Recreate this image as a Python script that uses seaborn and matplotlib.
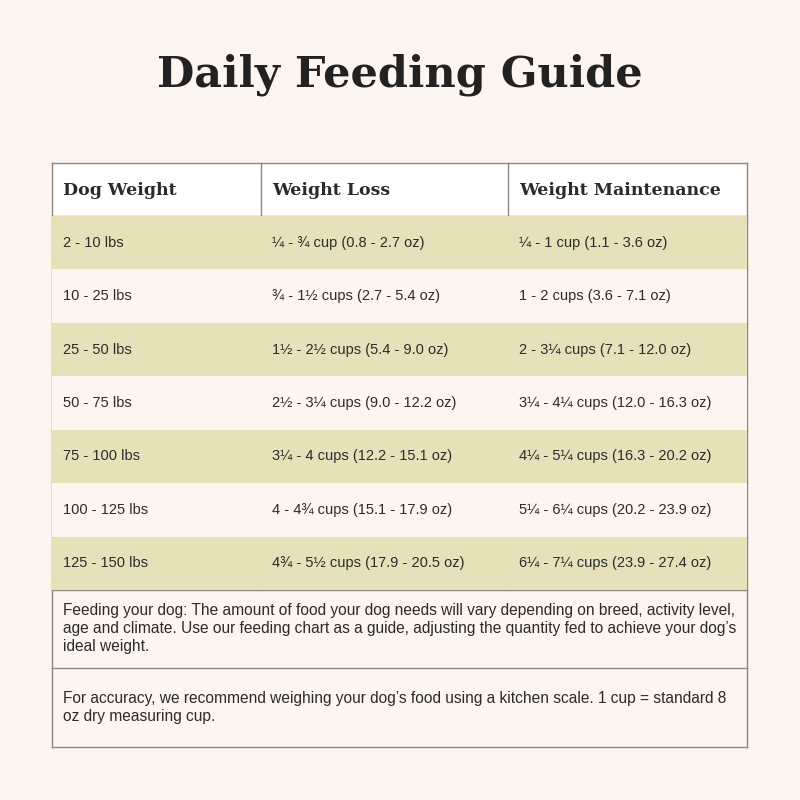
import matplotlib
matplotlib.use("Agg")
import matplotlib.pyplot as plt
import seaborn as sns
import numpy as np
from matplotlib.colors import ListedColormap
from matplotlib.patches import Rectangle

title = "Daily Feeding Guide"
headers = ["Dog Weight", "Weight Loss", "Weight Maintenance"]
weights = ["2 - 10 lbs", "10 - 25 lbs", "25 - 50 lbs", "50 - 75 lbs", "75 - 100 lbs", "100 - 125 lbs", "125 - 150 lbs"]
loss = ["¼ - ¾ cup (0.8 - 2.7 oz)", "¾ - 1½ cups (2.7 - 5.4 oz)", "1½ - 2½ cups (5.4 - 9.0 oz)",
        "2½ - 3¼ cups (9.0 - 12.2 oz)", "3¼ - 4 cups (12.2 - 15.1 oz)", "4 - 4¾ cups (15.1 - 17.9 oz)",
        "4¾ - 5½ cups (17.9 - 20.5 oz)"]
maint = ["¼ - 1 cup (1.1 - 3.6 oz)", "1 - 2 cups (3.6 - 7.1 oz)", "2 - 3¼ cups (7.1 - 12.0 oz)",
         "3¼ - 4¼ cups (12.0 - 16.3 oz)", "4¼ - 5¼ cups (16.3 - 20.2 oz)", "5¼ - 6¼ cups (20.2 - 23.9 oz)",
         "6¼ - 7¼ cups (23.9 - 27.4 oz)"]
notes = ["Feeding your dog: The amount of food your dog needs will vary depending on breed, activity level,\nage and climate. Use our feeding chart as a guide, adjusting the quantity fed to achieve your dog’s\nideal weight.",
         "For accuracy, we recommend weighing your dog’s food using a kitchen scale. 1 cup = standard 8\noz dry measuring cup."]

BG = "#fdf5f0"
OLIVE = "#e7e1b9"
LINE = "#8c8782"
TXT = "#2b2b2b"
SANS = ["Liberation Sans", "DejaVu Sans"]

fig = plt.figure(figsize=(8, 8), dpi=100, facecolor=BG)
ax = fig.add_axes([0, 0, 1, 1])
ax.set_xlim(0, 800); ax.set_ylim(800, 0); ax.axis("off")

ax.text(400, 75, title, ha="center", va="center", fontsize=31, family="DejaVu Serif",
        fontweight="bold", color="#222222")

L, R = 52, 747
cols = [52, 261, 508, 747]
top, hb = 163, 216
rowh = (590 - 216) / len(weights)
nb = [590, 668, 747]

ax.add_patch(Rectangle((L, top), R - L, hb - top, facecolor="white", edgecolor="none"))
for i, h in enumerate(headers):
    ax.text(cols[i] + 11, (top + hb) / 2 + 1, h, ha="left", va="center", fontsize=12.5,
            fontweight="bold", color=TXT, family="DejaVu Serif")

bax = fig.add_axes([L / 800, 1 - 590 / 800, (R - L) / 800, (590 - 216) / 800])
shade = np.array([[(i + 1) % 2] * 3 for i in range(len(weights))])
annot = np.array([[w, l, m] for w, l, m in zip(weights, loss, maint)], dtype=object)
sns.heatmap(shade, ax=bax, cmap=ListedColormap([BG, OLIVE]), cbar=False,
            xticklabels=False, yticklabels=False)
bax.set_xlim(0, 3); bax.set_ylim(len(weights), 0)
xfrac = [(c - L) / (R - L) * 3 for c in cols]
for i in range(len(weights)):
    for j in range(3):
        bax.text(xfrac[j] + 11 / (R - L) * 3, i + 0.5, annot[i, j], ha="left", va="center",
                 fontsize=10.5, color=TXT, family=SANS)
bax.axis("off")

for k, n in enumerate(notes):
    ax.text(L + 11, (nb[k] + nb[k + 1]) / 2, n, ha="left", va="center", fontsize=11.2,
            color=TXT, linespacing=1.25, family=SANS)

hl = [top, hb] + [hb + rowh * i for i in range(1, len(weights) + 1)] + nb[1:]
for y in hl:
    ax.plot([L, R], [y, y], color=LINE, lw=1, zorder=5)
for x in cols:
    ax.plot([x, x], [top, 590 if x not in (L, R) else 747], color=LINE, lw=1, zorder=5)

fig.savefig("out.png", dpi=100, facecolor=BG)
